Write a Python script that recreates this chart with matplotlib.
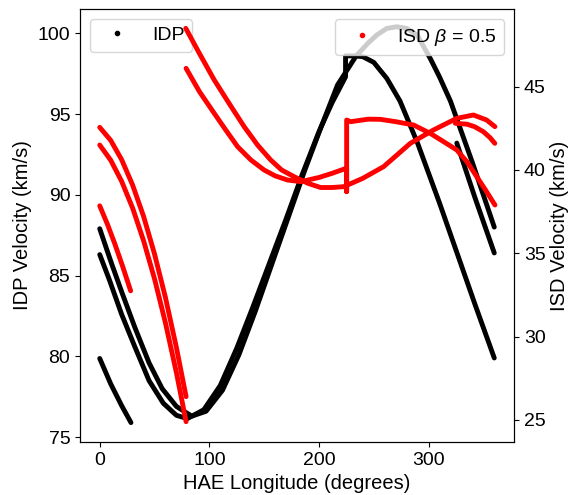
import matplotlib
matplotlib.use("Agg")
import matplotlib.pyplot as plt
from matplotlib.lines import Line2D

plt.rcParams['font.family'] = ['Liberation Sans', 'DejaVu Sans']
plt.rcParams['mathtext.fontset'] = 'custom'
plt.rcParams['mathtext.it'] = 'Liberation Sans:italic'
plt.rcParams['mathtext.rm'] = 'Liberation Sans'

# ---- IDP (black, left axis) ----
idp1_lon = [0, 9, 20, 32, 45, 58, 70, 80, 95, 110, 125, 140, 155, 170, 185, 200, 212, 224.3, 224.3,
            232, 240, 250, 262, 274, 290, 310, 326, 342.5, 360]
idp1_vel = [86.3, 84.7, 82.6, 80.6, 78.5, 77.1, 76.35, 76.15, 76.7, 78.2, 80.5, 83.1, 85.8, 88.5, 91.3,
            93.9, 95.7, 97.3, 98.6, 98.6, 98.55, 98.2, 97.2, 95.8, 93.2, 89.5, 86.4, 83.2, 79.9]
idp2_lon = [0, 10, 20, 32, 45, 57, 70, 84, 97, 112, 127, 142, 157, 172, 187, 202, 217, 234, 245, 253,
            262, 271, 280, 289.5, 301.5, 310, 320, 340, 360]
idp2_vel = [87.9, 85.9, 84.0, 81.8, 79.6, 78.0, 76.9, 76.3, 76.6, 77.9, 80.1, 82.8, 85.7, 88.6, 91.5,
            94.2, 96.8, 98.6, 99.4, 99.9, 100.3, 100.4, 100.3, 99.9, 98.45, 97.3, 95.8, 92.0, 88.0]
idp3_lon = [0, 10, 20, 28.5]
idp3_vel = [79.87, 78.3, 76.95, 75.9]
idp4_lon = [325.8, 342.5, 360]
idp4_vel = [93.2, 89.8, 86.4]

# ---- ISD beta = 0.5 (red, right axis) ----
isd_a_lon = [324.5, 335, 342, 350, 356, 360.5]
isd_a_vel = [42.8, 42.75, 42.6, 42.3, 41.95, 41.6]
isd_b_lon = [0, 10, 20, 30, 40, 50, 60, 70, 78.8]
isd_b_vel = [41.5, 40.59, 39.32, 37.72, 35.76, 33.47, 30.82, 27.83, 24.9]
isd_c_lon = [78.5, 90.9, 104.5, 118, 131.8, 144, 156, 166, 177.3, 190, 201.5, 212, 222.7, 240, 259,
             283.4, 304.5, 325.8, 341, 353, 360.6]
isd_c_vel = [48.5, 47.0, 45.4, 44.0, 42.6, 41.5, 40.6, 40.0, 39.6, 39.2, 38.95, 38.95, 39.0, 39.5,
             40.2, 41.6, 42.4, 43.1, 43.3, 43.0, 42.6]
isd_d_lon = [0, 10, 20, 30, 40, 50, 60, 70, 78.8]
isd_d_vel = [42.56, 41.78, 40.62, 39.10, 37.22, 34.96, 32.34, 29.34, 26.4]
isd_e_lon = [78.8, 91, 104.5, 115, 125.8, 138, 150, 160, 171.3, 183.4, 200, 212, 222.7, 225.3, 225.3,
             225.3, 229, 245, 256, 270, 286.4, 301.5, 315, 325.8, 335, 344, 352, 360.6]
isd_e_vel = [46.1, 44.7, 43.4, 42.4, 41.4, 40.6, 40.0, 39.65, 39.4, 39.3, 39.55, 39.8, 40.05, 40.1,
             38.7, 43.0, 42.9, 43.05, 43.04, 42.9, 42.7, 42.2, 41.65, 41.2, 40.5, 39.6, 38.8, 37.9]
isd_f_lon = [0, 7, 13.6, 21, 28.2]
isd_f_vel = [37.85, 36.75, 35.6, 34.2, 32.75]

idp_curves = [(idp1_lon, idp1_vel), (idp2_lon, idp2_vel), (idp3_lon, idp3_vel), (idp4_lon, idp4_vel)]
isd_curves = [(isd_a_lon, isd_a_vel), (isd_b_lon, isd_b_vel), (isd_c_lon, isd_c_vel),
              (isd_d_lon, isd_d_vel), (isd_e_lon, isd_e_vel), (isd_f_lon, isd_f_vel)]

fig = plt.figure(figsize=(5.68, 4.95), dpi=100)
ax1 = fig.add_axes([80/568, 1-442/495, (514-80)/568, (442-9)/495])
ax2 = ax1.twinx()

lw = 3.5
for lon, vel in idp_curves:
    ax1.plot(lon, vel, color='black', lw=lw, solid_capstyle='round', solid_joinstyle='round')
for lon, vel in isd_curves:
    ax2.plot(lon, vel, color='red', lw=lw, solid_capstyle='round', solid_joinstyle='round')

ax1.set_xlim(-18, 378)
ax1.set_ylim(74.7, 101.5)
ax2.set_ylim(23.68, 49.66)
ax1.set_xticks([0, 100, 200, 300])
ax1.set_yticks([75, 80, 85, 90, 95, 100])
ax2.set_yticks([25, 30, 35, 40, 45])

tfs = 14
ax1.tick_params(labelsize=tfs)
ax2.tick_params(labelsize=tfs)
ax1.set_xlabel('HAE Longitude (degrees)', fontsize=14.5)
ax1.set_ylabel('IDP Velocity (km/s)', fontsize=14.5)
ax2.set_ylabel('ISD Velocity (km/s)', fontsize=14.5, labelpad=3)

h1 = Line2D([], [], color='black', marker='o', ls='', markersize=3)
h2 = Line2D([], [], color='red', marker='o', ls='', markersize=3)
ax1.legend([h1], ['IDP'], loc='upper left', fontsize=14)
ax2.legend([h2], [r'ISD $\beta$ = 0.5'], loc='upper right', fontsize=14)

fig.savefig('out.png', dpi=100)
